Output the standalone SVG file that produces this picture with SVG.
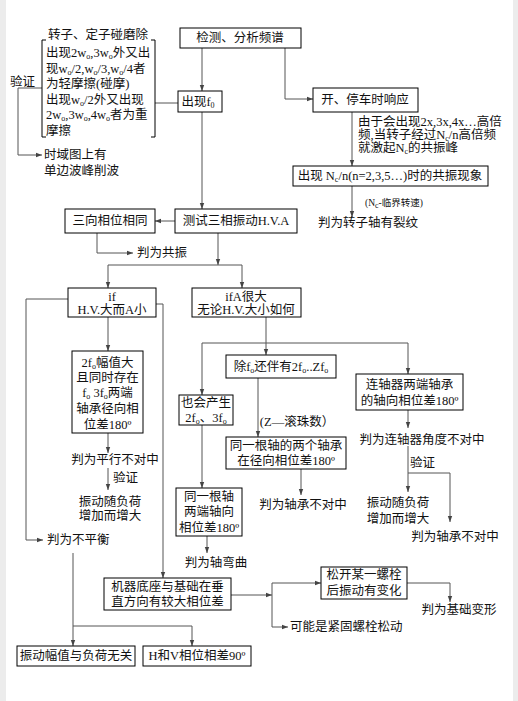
<svg xmlns="http://www.w3.org/2000/svg" width="518" height="701" viewBox="0 0 518 701">
<defs>
<marker id="ah" markerUnits="userSpaceOnUse" markerWidth="6" markerHeight="6" viewBox="0 0 6 6" refX="6" refY="3" orient="auto">
<path d="M0,0.8 L6,3 L0,5.2 Z" fill="#444"/>
</marker>
<style>
text{font-family:'Liberation Serif','Noto Sans CJK SC',serif;font-size:12.5px;fill:#111;dominant-baseline:central}
.c{text-anchor:middle}
.s{font-size:8px}
.sm{font-size:9.5px}
.b{fill:#fff;stroke:#000;stroke-width:1}
.ln{fill:none;stroke:#555;stroke-width:1}
.ar{fill:none;stroke:#555;stroke-width:1;marker-end:url(#ah)}
</style>
</defs>
<rect width="518" height="701" fill="#fff"/>
<rect x="0" y="0" width="6" height="701" fill="#ececec"/>
<rect x="513" y="0" width="5" height="701" fill="#ececec"/>

<g id="connectors">
<path class="ar" d="M202,48 V91"/>
<path class="ar" d="M285,48 V99 H313"/>
<path class="ar" d="M352,112 V166"/>
<path class="ar" d="M352,186 V217"/>
<path class="ln" d="M155,103 H178"/>
<path class="ar" d="M42,88 H18 V155 H42"/>
<path class="ar" d="M202,112 V209"/>
<path class="ar" d="M175,221 H155"/>
<path class="ar" d="M97,233 V253 H133"/>
<path class="ar" d="M218,233 V265"/>
<path class="ar" d="M175,265 H108 V288"/>
<path class="ar" d="M175,265 H242 V288"/>
<path class="ar" d="M68,299 H26 V540 H43"/>
<path class="ar" d="M156,304 H163 V578"/>
<path class="ar" d="M108,317 V351"/>
<path class="ar" d="M108,433 V453"/>
<path class="ar" d="M108,468 V490"/>
<path class="ar" d="M73,553 V646"/>
<path class="ar" d="M73,626 H192 V646"/>
<path class="ar" d="M266,317 V355"/>
<path class="ar" d="M266,343 H202 V395"/>
<path class="ar" d="M266,343 H408 V374"/>
<path class="ar" d="M258,378 V437"/>
<path class="ar" d="M301,469 V495"/>
<path class="ar" d="M202,425 V488"/>
<path class="ar" d="M207,536 V553"/>
<path class="ar" d="M408,410 V428"/>
<path class="ar" d="M408,446 V492"/>
<path class="ar" d="M408,473 H450 V522"/>
<path class="ar" d="M231,595 H272"/>
<path class="ln" d="M272,583 V627"/>
<path class="ar" d="M272,583 H321"/>
<path class="ar" d="M272,627 H288"/>
<path class="ar" d="M407,583 H450 V602"/>
</g>

<g id="n-rub">
<path fill="none" stroke="#000" d="M46,40 H42 V137 H46 M151,40 H155 V137 H151"/>
<text class="c" x="98" y="35">转子、定子碰磨除</text>
<text x="46" y="53">出现2w<tspan class="s" dy="3">o</tspan><tspan dy="-3">,3w</tspan><tspan class="s" dy="3">o</tspan><tspan dy="-3">外又出</tspan></text>
<text x="46" y="69">现w<tspan class="s" dy="3">o</tspan><tspan dy="-3">/2,w</tspan><tspan class="s" dy="3">o</tspan><tspan dy="-3">/3,w</tspan><tspan class="s" dy="3">o</tspan><tspan dy="-3">/4者</tspan></text>
<text x="46" y="84">为轻摩擦(碰摩)</text>
<text x="46" y="100">出现w<tspan class="s" dy="3">o</tspan><tspan dy="-3">/2外又出现</tspan></text>
<text x="46" y="115">2w<tspan class="s" dy="3">o</tspan><tspan dy="-3">,3w</tspan><tspan class="s" dy="3">o</tspan><tspan dy="-3">,4w</tspan><tspan class="s" dy="3">o</tspan><tspan dy="-3">者为重</tspan></text>
<text x="46" y="131">摩擦</text>
</g>
<g id="n-verify1"><text x="10" y="82">验证</text></g>
<g id="n-timedomain">
<text x="44" y="155">时域图上有</text>
<text x="44" y="171">单边波峰削波</text>
</g>

<g id="n-detect">
<rect class="b" x="180" y="28" width="121" height="20"/>
<text class="c" x="240" y="38">检测、分析频谱</text>
</g>
<g id="n-f0">
<rect class="b" x="178" y="91" width="44" height="21"/>
<text class="c" x="198" y="101.5">出现f<tspan class="s" dy="3">0</tspan></text>
</g>
<g id="n-startstop">
<rect class="b" x="313" y="88" width="105" height="24"/>
<text class="c" x="365" y="100">开、停车时响应</text>
</g>
<g id="n-note">
<text x="358" y="122">由于会出现2x,3x,4x…高倍</text>
<text x="358" y="135">频,当转子经过N<tspan class="s" dy="3">c</tspan><tspan dy="-3">/n高倍频</tspan></text>
<text x="358" y="148">就激起N<tspan class="s" dy="3">c</tspan><tspan dy="-3">的共振峰</tspan></text>
</g>
<g id="n-nc">
<rect class="b" x="293" y="166" width="195" height="20"/>
<text class="c" x="390" y="176">出现 N<tspan class="s" dy="3">c</tspan><tspan dy="-3">/n(n=2,3,5…)时的共振现象</tspan></text>
</g>
<g id="n-ncnote"><text class="sm" x="365" y="203">(N<tspan class="s" dy="2">c</tspan><tspan dy="-2">-临界转速)</tspan></text></g>
<g id="n-crack"><text class="c" x="368" y="223">判为转子轴有裂纹</text></g>

<g id="n-same">
<rect class="b" x="65" y="209" width="90" height="24"/>
<text class="c" x="110" y="221">三向相位相同</text>
</g>
<g id="n-test">
<rect class="b" x="175" y="209" width="122" height="24"/>
<text class="c" x="236" y="221">测试三相振动H.V.A</text>
</g>
<g id="n-resonance"><text x="137" y="253">判为共振</text></g>

<g id="n-if1">
<rect class="b" x="68" y="288" width="88" height="29"/>
<text class="c" x="112" y="297">if</text>
<text class="c" x="112" y="310">H.V.大而A小</text>
</g>
<g id="n-if2">
<rect class="b" x="192" y="288" width="109" height="29"/>
<text class="c" x="246" y="297">ifA很大</text>
<text class="c" x="246" y="310">无论H.V.大小如何</text>
</g>

<g id="n-2f0">
<rect class="b" x="72" y="351" width="71" height="82"/>
<text class="c" x="107.5" y="363">2f<tspan class="s" dy="3">o</tspan><tspan dy="-3">幅值大</tspan></text>
<text class="c" x="107.5" y="378">且同时存在</text>
<text class="c" x="107.5" y="393">f<tspan class="s" dy="3">o</tspan><tspan dy="-3"> 3f</tspan><tspan class="s" dy="3">o</tspan><tspan dy="-3">两端</tspan></text>
<text class="c" x="107.5" y="409">轴承径向相</text>
<text class="c" x="107.5" y="425">位差180º</text>
</g>
<g id="n-parallel"><text class="c" x="115" y="460">判为平行不对中</text></g>
<g id="n-verify2"><text x="113" y="478">验证</text></g>
<g id="n-load1">
<text class="c" x="110" y="502">振动随负荷</text>
<text class="c" x="110" y="516">增加而增大</text>
</g>
<g id="n-unbalance"><text x="47" y="540">判为不平衡</text></g>

<g id="n-zf0">
<rect class="b" x="226" y="355" width="110" height="23"/>
<text class="c" x="281" y="366.5">除f<tspan class="s" dy="3">o</tspan><tspan dy="-3">还伴有2f</tspan><tspan class="s" dy="3">o</tspan><tspan dy="-3">..Zf</tspan><tspan class="s" dy="3">o</tspan></text>
</g>
<g id="n-also">
<rect class="b" x="179" y="395" width="54" height="30"/>
<text class="c" x="206" y="403">也会产生</text>
<text class="c" x="206" y="418">2f<tspan class="s" dy="3">o</tspan><tspan dy="-3">、3f</tspan><tspan class="s" dy="3">o</tspan></text>
</g>
<g id="n-znote"><text class="c" x="297" y="422">(Z—滚珠数）</text></g>
<g id="n-twobearing">
<rect class="b" x="226" y="437" width="120" height="32"/>
<text class="c" x="286" y="446">同一根轴的两个轴承</text>
<text class="c" x="286" y="461">在径向相位差180º</text>
</g>
<g id="n-bearmis1"><text class="c" x="303" y="505">判为轴承不对中</text></g>
<g id="n-axial">
<rect class="b" x="176" y="488" width="66" height="48"/>
<text class="c" x="209" y="497">同一根轴</text>
<text class="c" x="209" y="512">两端轴向</text>
<text class="c" x="209" y="528">相位差180º</text>
</g>
<g id="n-bend"><text class="c" x="216" y="563">判为轴弯曲</text></g>

<g id="n-coupling">
<rect class="b" x="356" y="374" width="107" height="36"/>
<text class="c" x="409.5" y="385">连轴器两端轴承</text>
<text class="c" x="409.5" y="401">的轴向相位差180º</text>
</g>
<g id="n-angle"><text class="c" x="422" y="440">判为连轴器角度不对中</text></g>
<g id="n-verify3"><text x="410" y="463">验证</text></g>
<g id="n-load2">
<text class="c" x="398" y="503">振动随负荷</text>
<text class="c" x="398" y="519">增加而增大</text>
</g>
<g id="n-bearmis2"><text class="c" x="455" y="537">判为轴承不对中</text></g>

<g id="n-base">
<rect class="b" x="104" y="578" width="127" height="32"/>
<text class="c" x="167.5" y="587">机器底座与基础在垂</text>
<text class="c" x="167.5" y="602">直方向有较大相位差</text>
</g>
<g id="n-loosen">
<rect class="b" x="321" y="567" width="86" height="32"/>
<text class="c" x="364" y="575">松开某一螺栓</text>
<text class="c" x="364" y="591">后振动有变化</text>
</g>
<g id="n-deform"><text class="c" x="459" y="610">判为基础变形</text></g>
<g id="n-bolt"><text x="290" y="627">可能是紧固螺栓松动</text></g>
<g id="n-amp">
<rect class="b" x="17" y="646" width="118" height="20"/>
<text class="c" x="76" y="656">振动幅值与负荷无关</text>
</g>
<g id="n-hv">
<rect class="b" x="143" y="646" width="108" height="20"/>
<text class="c" x="197" y="656">H和V相位相差90º</text>
</g>
</svg>
